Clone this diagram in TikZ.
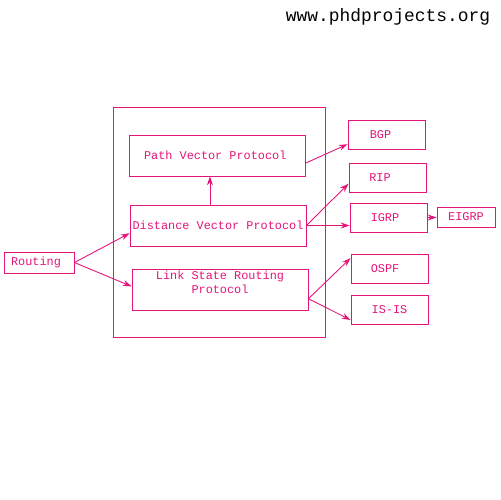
\documentclass[tikz,border=0pt]{standalone}
\usepackage{fontspec}
\setmonofont{Liberation Mono}
\usetikzlibrary{arrows.meta,calc}
\definecolor{pk}{RGB}{228,20,120}
\begin{document}
\begin{tikzpicture}[x=0.02cm,y=-0.02cm,
  box/.style={draw=pk,line width=0.5pt,text=pk,font=\ttfamily\fontsize{6.75}{7.9}\selectfont,inner sep=0pt,align=center},
  arr/.style={draw=pk,line width=0.5pt,-{Stealth[length=5pt,width=3.4pt]}}]
\useasboundingbox (0,0) rectangle (500,500);
\node[font=\ttfamily\fontsize{10.2}{12}\selectfont] (web) at (388,17) {www.phdprojects.org};
\node[box,minimum width=4.24cm,minimum height=4.6cm] (outer) at (219,222) {};
\node[box,minimum width=3.52cm,minimum height=0.82cm] (pv) at (217,155.5) {Path Vector Protocol\hspace{2pt}};
\node[box,minimum width=3.52cm,minimum height=0.82cm] (dv) at (218,225.5) {Distance Vector Protocol};
\node[box,minimum width=3.52cm,minimum height=0.82cm] (ls) at (220,289.5) {Link State Routing\\Protocol\\[0pt]};
\node[box,minimum width=1.4cm,minimum height=0.42cm] (rt) at (39,262.5) {Routing\hspace{3.4pt}};
\node[box,minimum width=1.54cm,minimum height=0.58cm] (bgp) at (386.5,134.5) {BGP\hspace{6.8pt}};
\node[box,minimum width=1.54cm,minimum height=0.58cm] (rip) at (387.5,177.5) {RIP\hspace{8.5pt}};
\node[box,minimum width=1.54cm,minimum height=0.58cm] (igrp) at (388.5,217.5) {IGRP\hspace{4pt}};
\node[box,minimum width=1.16cm,minimum height=0.4cm] (eigrp) at (466,217) {EIGRP};
\node[box,minimum width=1.54cm,minimum height=0.58cm] (ospf) at (389.5,268.5) {OSPF\hspace{5pt}};
\node[box,minimum width=1.54cm,minimum height=0.58cm] (isis) at (389.5,309.5) {IS-IS};
\draw[arr] (rt.east) -- (dv.185);
\draw[arr] (rt.east) -- (ls.178);
\draw[arr] (dv.111) -- (dv.111 |- pv.south);
\draw[arr] (pv.-5) -- (bgp.194);
\draw[arr] (dv.east) -- (rip.189);
\draw[arr] (dv.east) -- (dv.east -| igrp.west);
\draw[arr] (igrp.east) -- (igrp.east -| eigrp.west);
\draw[arr] (ls.-6) -- (ospf.165);
\draw[arr] (ls.-6) -- (isis.195);
\end{tikzpicture}
\end{document}
